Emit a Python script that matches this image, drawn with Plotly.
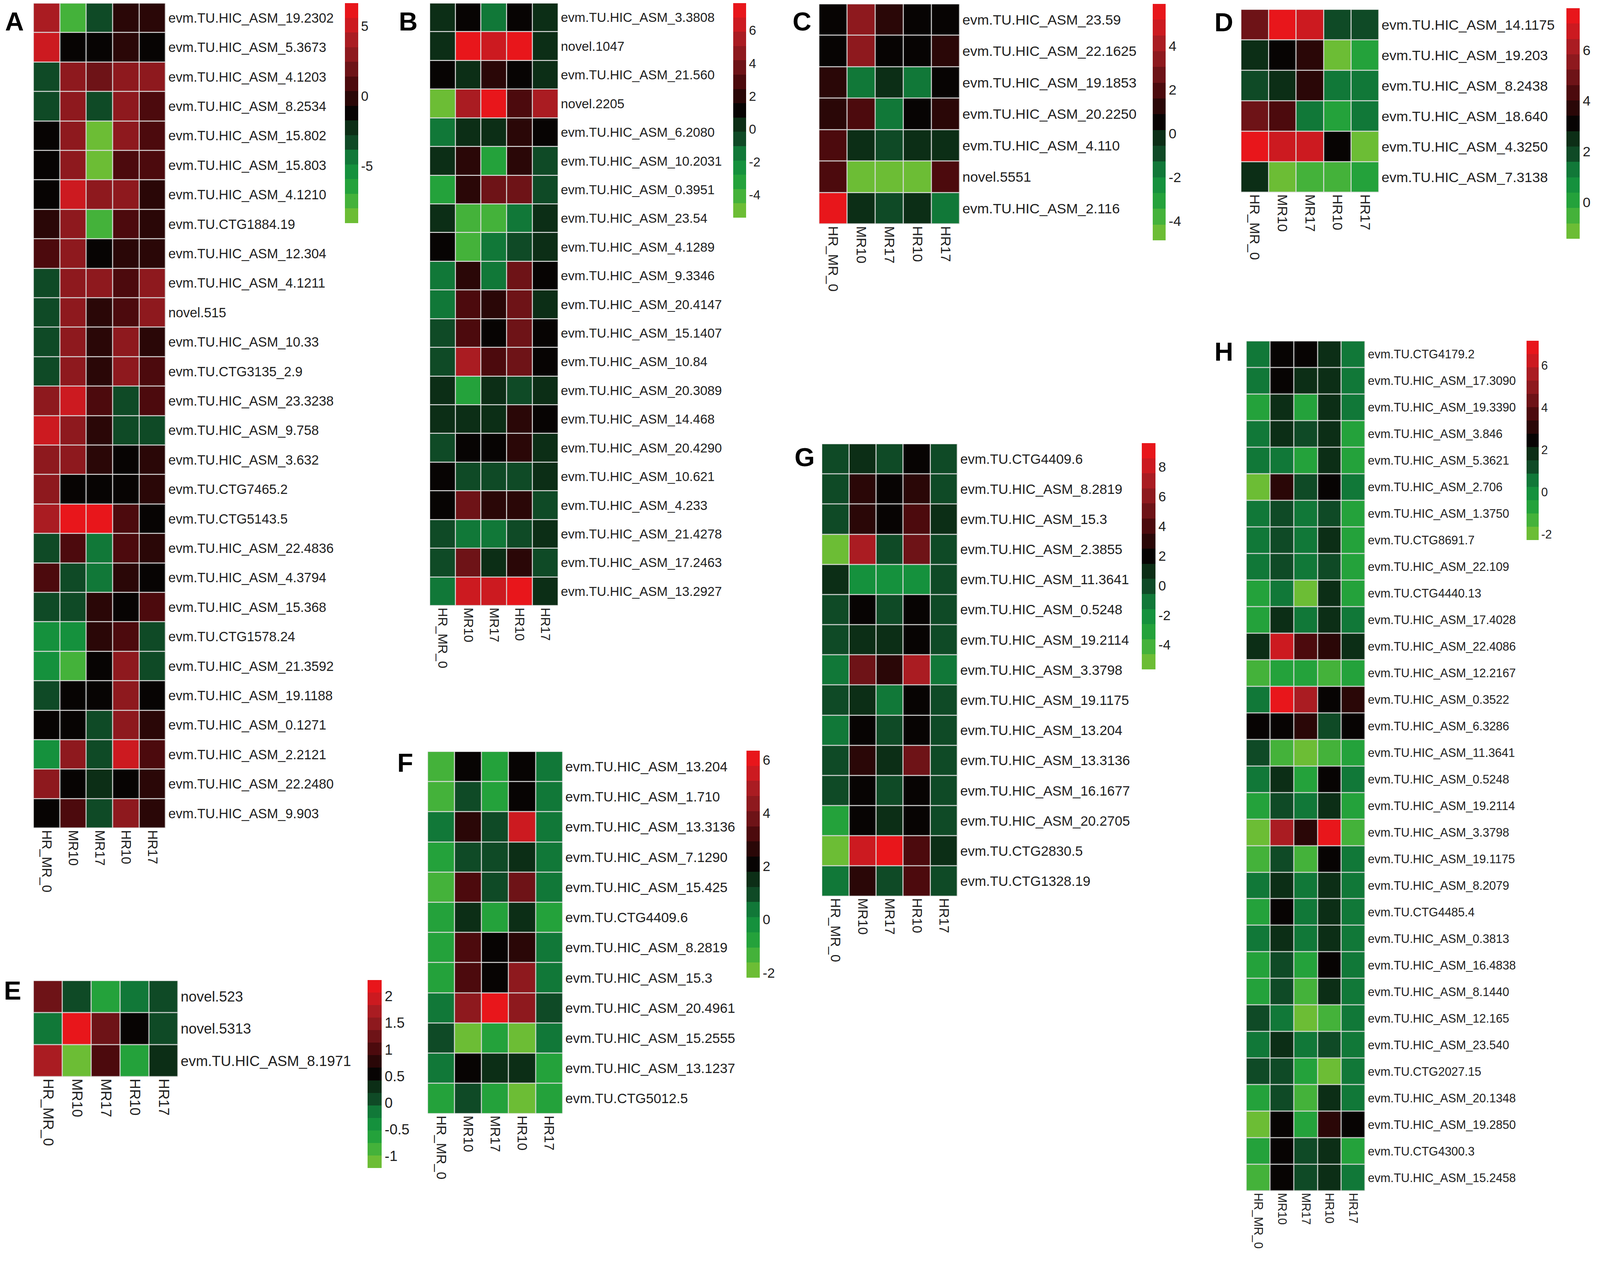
import plotly.graph_objects as go

# reference frame (pixels of the original picture)
W, H = 4550, 3227
# the page renders a little larger than the window, so sizes are shrunk by this factor
SCALE = 1.112
PAD = 8  # default body margin of the html page
VW, VH = W / SCALE, H / SCALE

FONT = "Liberation Sans, Arial, sans-serif"
TEXT = "#1e1e1e"

samples = ["HR_MR_0", "MR10", "MR17", "HR10", "HR17"]

# ---- panel A ----
a_genes = [
    "evm.TU.HIC_ASM_19.2302", "evm.TU.HIC_ASM_5.3673", "evm.TU.HIC_ASM_4.1203",
    "evm.TU.HIC_ASM_8.2534", "evm.TU.HIC_ASM_15.802", "evm.TU.HIC_ASM_15.803",
    "evm.TU.HIC_ASM_4.1210", "evm.TU.CTG1884.19", "evm.TU.HIC_ASM_12.304",
    "evm.TU.HIC_ASM_4.1211", "novel.515", "evm.TU.HIC_ASM_10.33",
    "evm.TU.CTG3135_2.9", "evm.TU.HIC_ASM_23.3238", "evm.TU.HIC_ASM_9.758",
    "evm.TU.HIC_ASM_3.632", "evm.TU.CTG7465.2", "evm.TU.CTG5143.5",
    "evm.TU.HIC_ASM_22.4836", "evm.TU.HIC_ASM_4.3794", "evm.TU.HIC_ASM_15.368",
    "evm.TU.CTG1578.24", "evm.TU.HIC_ASM_21.3592", "evm.TU.HIC_ASM_19.1188",
    "evm.TU.HIC_ASM_0.1271", "evm.TU.HIC_ASM_2.2121", "evm.TU.HIC_ASM_22.2480",
    "evm.TU.HIC_ASM_9.903",
]
a_values = [
    [3.7, -7.9, -3.6, -0.4, -0.4],
    [5.1, -1.3, -1.3, -0.4, -1.3],
    [-3.2, 3.1, 1.5, 2.7, 3.1],
    [-3.2, 3.1, -3.2, 2.7, 1.1],
    [-1.3, 3.1, -8.7, 2.7, 1.1],
    [-1.3, 2.7, -8.7, 1.1, 1.1],
    [-1.3, 5.1, 2.7, 2.7, -0.4],
    [-0.4, 2.7, -7.9, 1.1, -0.4],
    [1.1, 3.1, -1.3, -0.4, -0.4],
    [-3.2, 3.1, 2.7, 1.1, 2.7],
    [-3.2, 2.7, -0.4, 1.1, 2.7],
    [-3.2, 3.1, -0.4, 2.7, -0.4],
    [-3.2, 3.1, -0.4, 2.7, 1.1],
    [2.7, 5.1, 1.1, -3.2, 1.1],
    [5.1, 2.7, -0.4, -3.2, -3.2],
    [2.7, 2.7, -0.4, -1.3, -0.4],
    [2.7, -1.3, -1.3, -1.3, -0.4],
    [3.7, 6.5, 6.5, 1.1, -1.3],
    [-3.2, 1.1, -4.8, 1.1, -0.4],
    [1.1, -3.6, -4.8, -0.4, -1.3],
    [-3.2, -3.2, -0.4, -1.3, 1.1],
    [-5.9, -5.9, -0.4, 1.1, -3.2],
    [-5.9, -7.1, -1.3, 2.7, -3.2],
    [-3.2, -1.3, -1.3, 2.7, -1.3],
    [-1.3, -1.3, -3.6, 2.7, -0.4],
    [-5.9, 3.1, -3.6, 5.1, 1.1],
    [2.7, -1.3, -2.4, -1.3, -0.4],
    [-1.3, 1.1, -3.2, 2.7, -0.4],
]

# ---- panel B ----
b_genes = [
    "evm.TU.HIC_ASM_3.3808", "novel.1047", "evm.TU.HIC_ASM_21.560", "novel.2205",
    "evm.TU.HIC_ASM_6.2080", "evm.TU.HIC_ASM_10.2031", "evm.TU.HIC_ASM_0.3951",
    "evm.TU.HIC_ASM_23.54", "evm.TU.HIC_ASM_4.1289", "evm.TU.HIC_ASM_9.3346",
    "evm.TU.HIC_ASM_20.4147", "evm.TU.HIC_ASM_15.1407", "evm.TU.HIC_ASM_10.84",
    "evm.TU.HIC_ASM_20.3089", "evm.TU.HIC_ASM_14.468", "evm.TU.HIC_ASM_20.4290",
    "evm.TU.HIC_ASM_10.621", "evm.TU.HIC_ASM_4.233", "evm.TU.HIC_ASM_21.4278",
    "evm.TU.HIC_ASM_17.2463", "evm.TU.HIC_ASM_13.2927",
]
b_values = [
    [0.2, 1.1, -1.8, 1.1, 0.2],
    [0.2, 7.6, 6.7, 7.6, 0.2],
    [1.1, 0.2, 2.1, 1.1, 0.2],
    [-5.3, 5.2, 7.6, 3.1, 5.2],
    [-1.8, 0.2, 0.2, 2.1, 1.1],
    [0.2, 2.1, -3.1, 2.1, -0.7],
    [-3.4, 2.1, 4.1, 4.1, -0.7],
    [0.2, -4.4, -4.4, -1.8, 0.2],
    [1.1, -4.4, -1.8, -0.7, 0.2],
    [-1.8, 2.1, -1.8, 4.1, 1.1],
    [-1.8, 3.1, 2.1, 4.1, 0.2],
    [-0.7, 3.1, 1.1, 4.1, 1.1],
    [-0.7, 5.2, 3.1, 4.1, 1.1],
    [0.2, -3.1, 0.2, -0.7, 0.2],
    [0.2, 0.2, 0.2, 2.1, 1.1],
    [-0.7, 1.1, 1.1, 2.1, 0.2],
    [1.1, -0.7, -0.7, -0.7, 0.2],
    [1.1, 4.1, 2.1, 2.1, -0.7],
    [-0.7, -1.8, -1.8, -0.7, 0.2],
    [-0.7, 4.1, 0.2, 2.1, -0.7],
    [-1.8, 6.7, 6.7, 7.6, 0.2],
]

# ---- panel C ----
c_genes = [
    "evm.TU.HIC_ASM_23.59", "evm.TU.HIC_ASM_22.1625", "evm.TU.HIC_ASM_19.1853",
    "evm.TU.HIC_ASM_20.2250", "evm.TU.HIC_ASM_4.110", "novel.5551",
    "evm.TU.HIC_ASM_2.116",
]
c_values = [
    [0.5, 3.7, 1.3, 0.5, 0.5],
    [0.5, 3.5, 0.5, 0.5, 1.3],
    [1.3, -1.9, -0.3, -1.4, 0.5],
    [1.3, 2.1, -1.4, 0.5, 1.3],
    [2.1, -0.3, -1.1, -0.3, -0.3],
    [2.1, -4.8, -4.8, -4.8, 2.1],
    [5.8, -0.3, -1.1, -0.3, -1.4],
]

# ---- panel D ----
d_genes = [
    "evm.TU.HIC_ASM_14.1175", "evm.TU.HIC_ASM_19.203", "evm.TU.HIC_ASM_8.2438",
    "evm.TU.HIC_ASM_18.640", "evm.TU.HIC_ASM_4.3250", "evm.TU.HIC_ASM_7.3138",
]
d_values = [
    [5.1, 7.6, 7.0, 1.7, 1.7],
    [2.4, 3.1, 3.8, -1.4, 0.1],
    [1.7, 2.4, 3.8, 1.1, 1.1],
    [5.1, 4.5, 1.1, 0.1, 1.1],
    [7.6, 7.0, 7.0, 3.1, -1.4],
    [2.4, -1.0, -0.3, -0.3, 0.1],
]

# ---- panel E ----
e_genes = ["novel.523", "novel.5313", "evm.TU.HIC_ASM_8.1971"]
e_values = [
    [1.33, 0.0, -0.61, -0.26, 0.0],
    [-0.26, 2.28, 1.33, 0.53, 0.0],
    [1.6, -1.2, 1.06, -0.61, 0.27],
]

# ---- panel F ----
f_genes = [
    "evm.TU.HIC_ASM_13.204", "evm.TU.HIC_ASM_1.710", "evm.TU.HIC_ASM_13.3136",
    "evm.TU.HIC_ASM_7.1290", "evm.TU.HIC_ASM_15.425", "evm.TU.CTG4409.6",
    "evm.TU.HIC_ASM_8.2819", "evm.TU.HIC_ASM_15.3", "evm.TU.HIC_ASM_20.4961",
    "evm.TU.HIC_ASM_15.2555", "evm.TU.HIC_ASM_13.1237", "evm.TU.CTG5012.5",
]
f_values = [
    [-1.55, 2.07, -0.7, 2.07, 0.15],
    [-1.55, 0.8, -0.7, 2.07, 0.15],
    [0.15, 2.7, 0.8, 5.7, 0.15],
    [-0.7, 0.8, 0.8, 1.43, 0.15],
    [-1.55, 3.35, 0.8, 4.0, 0.15],
    [-0.7, 1.43, -0.7, 1.43, -0.9],
    [-0.7, 3.1, 2.07, 2.7, 0.15],
    [-0.7, 3.35, 2.07, 4.4, 0.15],
    [0.15, 4.6, 6.3, 4.6, 0.8],
    [0.8, -1.98, -0.7, -1.98, 0.15],
    [0.15, 2.07, 1.43, 1.43, -0.7],
    [-0.7, 0.8, -0.7, -2.15, -0.7],
]

# ---- panel G ----
g_genes = [
    "evm.TU.CTG4409.6", "evm.TU.HIC_ASM_8.2819", "evm.TU.HIC_ASM_15.3",
    "evm.TU.HIC_ASM_2.3855", "evm.TU.HIC_ASM_11.3641", "evm.TU.HIC_ASM_0.5248",
    "evm.TU.HIC_ASM_19.2114", "evm.TU.HIC_ASM_3.3798", "evm.TU.HIC_ASM_19.1175",
    "evm.TU.HIC_ASM_13.204", "evm.TU.HIC_ASM_13.3136", "evm.TU.HIC_ASM_16.1677",
    "evm.TU.HIC_ASM_20.2705", "evm.TU.CTG2830.5", "evm.TU.CTG1328.19",
]
g_values = [
    [-0.3, 0.8, -0.3, 2.0, -0.3],
    [-0.3, 3.1, 2.0, 3.1, -0.3],
    [-0.3, 3.1, 2.0, 4.3, 0.8],
    [-4.9, 6.6, -0.3, 5.4, -0.3],
    [0.8, -1.8, -1.8, -1.8, -0.3],
    [-0.3, 2.0, -0.3, 2.0, -0.3],
    [-0.3, 0.8, 0.8, 2.0, -0.3],
    [-1.5, 5.4, 3.1, 6.6, -1.5],
    [-0.3, 0.8, -1.5, 2.0, -0.3],
    [-1.5, 2.0, -0.3, 2.0, -0.3],
    [-0.3, 3.1, 0.8, 5.4, -0.3],
    [-0.3, 2.0, -0.3, 2.0, -0.3],
    [-3.0, 2.0, 0.8, 2.0, -0.3],
    [-4.9, 8.1, 9.6, 4.3, 0.8],
    [-1.5, 3.1, -0.3, 4.3, -0.3],
]

# ---- panel H ----
h_genes = [
    "evm.TU.CTG4179.2", "evm.TU.HIC_ASM_17.3090", "evm.TU.HIC_ASM_19.3390",
    "evm.TU.HIC_ASM_3.846", "evm.TU.HIC_ASM_5.3621", "evm.TU.HIC_ASM_2.706",
    "evm.TU.HIC_ASM_1.3750", "evm.TU.CTG8691.7", "evm.TU.HIC_ASM_22.109",
    "evm.TU.CTG4440.13", "evm.TU.HIC_ASM_17.4028", "evm.TU.HIC_ASM_22.4086",
    "evm.TU.HIC_ASM_12.2167", "evm.TU.HIC_ASM_0.3522", "evm.TU.HIC_ASM_6.3286",
    "evm.TU.HIC_ASM_11.3641", "evm.TU.HIC_ASM_0.5248", "evm.TU.HIC_ASM_19.2114",
    "evm.TU.HIC_ASM_3.3798", "evm.TU.HIC_ASM_19.1175", "evm.TU.HIC_ASM_8.2079",
    "evm.TU.CTG4485.4", "evm.TU.HIC_ASM_0.3813", "evm.TU.HIC_ASM_16.4838",
    "evm.TU.HIC_ASM_8.1440", "evm.TU.HIC_ASM_12.165", "evm.TU.HIC_ASM_23.540",
    "evm.TU.CTG2027.15", "evm.TU.HIC_ASM_20.1348", "evm.TU.HIC_ASM_19.2850",
    "evm.TU.CTG4300.3", "evm.TU.HIC_ASM_15.2458",
]
h_values = [
    [0.35, 2.5, 2.5, 1.75, 0.35],
    [0.35, 2.5, 1.75, 1.75, 0.35],
    [-0.85, 1.75, -0.85, 1.75, 0.35],
    [0.35, 1.75, 1.05, 1.75, -0.85],
    [0.35, 0.35, -0.85, 1.75, -0.85],
    [-1.9, 3.2, 1.05, 2.5, 0.35],
    [0.35, 1.05, 0.35, 1.05, -0.85],
    [0.35, 1.05, 0.35, 1.75, -0.85],
    [0.35, 1.05, 0.35, 1.05, -0.85],
    [-0.85, 0.35, -1.9, 1.75, -0.85],
    [-0.85, 1.75, 0.35, 1.75, 0.35],
    [1.75, 6.2, 3.9, 3.2, 1.75],
    [-1.3, -0.85, -0.85, -1.3, -0.85],
    [0.35, 7.1, 5.3, 2.5, 3.2],
    [2.5, 2.5, 3.2, 1.05, 2.5],
    [1.05, -1.3, -1.9, -1.3, -0.85],
    [0.35, 1.75, -0.85, 2.5, 0.35],
    [-0.85, 1.05, 0.35, 1.75, -0.85],
    [-1.9, 5.3, 3.2, 7.1, -1.1],
    [-1.1, 1.05, -1.1, 2.5, 0.35],
    [0.35, 1.75, 0.35, 1.75, 0.35],
    [-0.85, 2.5, 0.35, 1.75, 0.35],
    [0.35, 1.75, 0.35, 1.75, 0.35],
    [-0.85, 1.05, -0.85, 2.5, 0.35],
    [-0.85, 1.05, -1.1, 1.75, 0.35],
    [1.05, 0.35, -1.9, -1.3, 0.35],
    [0.35, 1.75, 0.35, 1.05, 0.35],
    [1.05, 1.05, -0.85, -1.9, 0.35],
    [-0.85, 1.05, -1.1, 1.75, 0.35],
    [-1.9, 2.5, -0.85, 3.2, 2.5],
    [-0.85, 2.5, 1.05, 1.75, -0.85],
    [-1.1, 2.5, 1.05, 1.75, 0.35],
]

# stepped green-black-red palette, like the binned legend in the figure
palette = [
    "#6cbd35", "#44b23a", "#24a23b", "#15913d", "#117838", "#0f4a26", "#0c2e16",
    "#070403",
    "#2a0707", "#4c0a0d", "#6e1317", "#8e191e", "#aa1c22", "#cc1a20", "#e8161b",
]
n = len(palette)
colorscale = []
for i, c in enumerate(palette):
    colorscale.append([i / n, c])
    colorscale.append([(i + 1) / n, c])


def clamp(v):
    return min(1.0, max(0.0, v))


# reference pixel -> paper fraction (the figure fills the window, minus body margin)
def px_x(X):
    return (X / W * VW - PAD) / (VW - 2 * PAD)


def px_y(Y):
    return 1 - (Y / H * VH - PAD) / (VH - 2 * PAD)


def sz(v):
    return v / SCALE


# layout of each panel in reference pixels (x0, y0, x1, y1) from the top-left corner
panels = [
    dict(tag="A", genes=a_genes, z=a_values, zr=(-9.08, 6.64), ticks=[5, 0, -5],
         box=(95, 9, 471, 2119), cb=(981, 7, 1019, 572), letter=(12, 56), fs=38),
    dict(tag="B", genes=b_genes, z=b_values, zr=(-5.4, 7.66), ticks=[6, 4, 2, 0, -2, -4],
         box=(1222, 8, 1587, 1550), cb=(2085, 7, 2122, 558), letter=(1132, 56), fs=37),
    dict(tag="C", genes=c_genes, z=c_values, zr=(-4.89, 5.91), ticks=[4, 2, 0, -2, -4],
         box=(2329, 11, 2729, 574), cb=(3278, 11, 3315, 616), letter=(2252, 56), fs=40),
    dict(tag="D", genes=d_genes, z=d_values, zr=(-1.45, 7.65), ticks=[6, 4, 2, 0],
         box=(3529, 25, 3921, 493), cb=(4454, 22, 4492, 612), letter=(3451, 58), fs=40),
    dict(tag="E", genes=e_genes, z=e_values, zr=(-1.23, 2.30),
         ticks=[2, 1.5, 1, 0.5, 0, -0.5, -1],
         box=(95, 2509, 506, 2755), cb=(1045, 2508, 1085, 2989), letter=(6, 2534), fs=41),
    dict(tag="F", genes=f_genes, z=f_values, zr=(-2.19, 6.34), ticks=[6, 4, 2, 0, -2],
         box=(1216, 1923, 1600, 2849), cb=(2123, 1921, 2161, 2502), letter=(1128, 1952), fs=39),
    dict(tag="G", genes=g_genes, z=g_values, zr=(-5.65, 9.61), ticks=[8, 6, 4, 2, 0, -2, -4],
         box=(2337, 1136, 2723, 2293), cb=(3247, 1134, 3286, 1713), letter=(2257, 1170), fs=39),
    dict(tag="H", genes=h_genes, z=h_values, zr=(-2.26, 7.18), ticks=[6, 4, 2, 0, -2],
         box=(3544, 873, 3882, 3047), cb=(4341, 872, 4376, 1382), letter=(3451, 900), fs=34),
]

fig = go.Figure()
annotations = []
layout_axes = {}

for k, p in enumerate(panels, start=1):
    xa = "x" if k == 1 else f"x{k}"
    ya = "y" if k == 1 else f"y{k}"
    x0, y0, x1, y1 = p["box"]
    cx0, cy0, cx1, cy1 = p["cb"]
    fs = sz(p["fs"])
    cb_top = clamp(px_y(cy0))
    cb_bot = clamp(px_y(cy1))

    fig.add_trace(go.Heatmap(
        z=p["z"], x=samples, y=p["genes"],
        xaxis=xa, yaxis=ya,
        zmin=p["zr"][0], zmax=p["zr"][1],
        colorscale=colorscale,
        xgap=2.5, ygap=2.5,
        hoverinfo="skip",
        colorbar=dict(
            x=px_x(cx0), xanchor="left", y=cb_top, yanchor="top",
            len=cb_top - cb_bot, lenmode="fraction",
            thickness=sz(cx1 - cx0), thicknessmode="pixels",
            xpad=0, ypad=0, outlinewidth=0, ticks="",
            tickvals=p["ticks"], ticktext=[f"{t:g}" for t in p["ticks"]],
            tickfont=dict(family=FONT, size=fs, color=TEXT),
        ),
    ))

    layout_axes["xaxis" if k == 1 else f"xaxis{k}"] = dict(
        domain=[clamp(px_x(x0)), clamp(px_x(x1))], anchor=ya,
        tickmode="array", tickvals=samples, ticktext=samples,
        tickangle=90, ticks="", showgrid=False, zeroline=False, showline=False,
        ticklabelstandoff=4,
        tickfont=dict(family=FONT, size=fs, color=TEXT),
    )
    layout_axes["yaxis" if k == 1 else f"yaxis{k}"] = dict(
        domain=[clamp(px_y(y1)), clamp(px_y(y0))], anchor=xa, side="right",
        autorange="reversed",
        tickmode="array", tickvals=p["genes"], ticktext=p["genes"],
        ticks="", showgrid=False, zeroline=False, showline=False,
        ticklabelstandoff=6,
        tickfont=dict(family=FONT, size=fs, color=TEXT),
    )

    lx, ly = p["letter"]
    annotations.append(dict(
        text=f"<b>{p['tag']}</b>", x=clamp(px_x(lx)), y=px_y(ly),
        xref="paper", yref="paper", xanchor="left", yanchor="middle",
        showarrow=False, font=dict(family=FONT, size=sz(74), color="#000000"),
    ))

fig.update_layout(
    autosize=True,
    margin=dict(l=0, r=0, t=0, b=0),
    paper_bgcolor="white",
    plot_bgcolor="#dcdcdc",
    showlegend=False,
    annotations=annotations,
    **layout_axes,
)

# the figure takes the whole window, so the panels keep their place on the page
fig.write_html(
    "out.html",
    default_width="calc(100vw - 16px)",
    default_height="calc(100vh - 16px)",
)
